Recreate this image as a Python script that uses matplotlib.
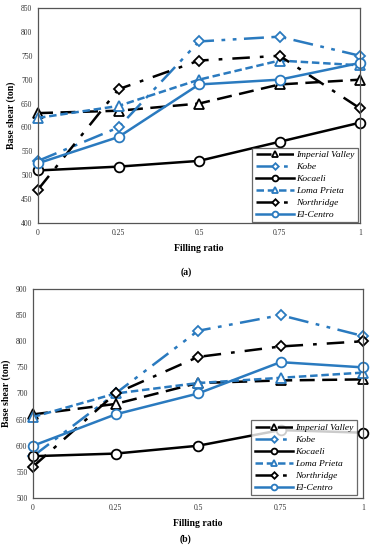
from matplotlib import pyplot as plt

plt.rcParams['font.family'] = 'Liberation Serif'

x = [0, 0.25, 0.5, 0.75, 1]
xticks = ['0', '0.25', '0.5', '0.75', '1']

# (a)
a_imperial = [630, 635, 650, 690, 700]
a_kobe = [530, 600, 780, 790, 750]
a_kocaeli = [510, 518, 530, 570, 610]
a_loma = [620, 645, 700, 740, 730]
a_northridge = [470, 680, 740, 750, 640]
a_elcentro = [525, 580, 690, 700, 735]

# (b)
b_imperial = [660, 680, 720, 725, 727]
b_kobe = [580, 700, 820, 850, 810]
b_kocaeli = [580, 585, 600, 630, 625]
b_loma = [655, 700, 720, 730, 740]
b_northridge = [560, 700, 770, 790, 800]
b_elcentro = [600, 660, 700, 760, 750]

names = ['Imperial Valley', 'Kobe', 'Kocaeli', 'Loma Prieta', 'Northridge', 'El-Centro']
blue = '#2a7abf'
colors = ['black', blue, 'black', blue, 'black', blue]
styles = [(0, (6, 3)), (0, (8, 3, 1.5, 3, 1.5, 3)), '-', (0, (3, 1.5)), (0, (7, 4, 1.5, 4)), '-']
markers = ['^', 'D', 'o', '^', 'D', 'o']
msizes = [6.5, 5.5, 7, 6.5, 5.5, 7]

fig = plt.figure(figsize=(3.72, 5.5), dpi=100)
ax1 = fig.add_axes([38/372, 1-223/550, 322/372, 215/550])
ax2 = fig.add_axes([33/372, 1-498/550, 330/372, 209/550])


def draw(ax, data, ylim, legbox):
    for i in range(6):
        ax.plot(x, data[i], label=names[i], color=colors[i], linestyle=styles[i],
                marker=markers[i], markersize=msizes[i], markerfacecolor='white',
                markeredgewidth=1.3, linewidth=1.8)
    ax.set_xlim(0, 1)
    ax.set_ylim(ylim[0], ylim[1])
    ax.set_yticks(range(ylim[0], ylim[1] + 1, 50))
    ax.set_xticks(x)
    ax.set_xticklabels(xticks)
    ax.tick_params(labelsize=5.5, length=0, pad=4, labelcolor='#333333')
    for s in ax.spines.values():
        s.set_color('#555555')
        s.set_linewidth(0.9)
    ax.set_xlabel('Filling ratio', fontsize=7, fontweight='bold', labelpad=5)
    ax.set_ylabel('Base shear (ton)', fontsize=7, fontweight='bold', labelpad=4)
    for l in ax.lines:
        l.set_clip_on(False)
    leg = ax.legend(loc='lower right', bbox_to_anchor=legbox,
                    prop={'style': 'italic', 'size': 6.8}, frameon=True, fancybox=False,
                    handlelength=4, handletextpad=0.3, labelspacing=0.35,
                    borderaxespad=0, borderpad=0.35, markerscale=0.6)
    leg.get_frame().set_edgecolor('#444444')
    leg.get_frame().set_linewidth(0.9)
    leg.set_zorder(5)


draw(ax1, [a_imperial, a_kobe, a_kocaeli, a_loma, a_northridge, a_elcentro], (400, 850),
     (0.994, 0.003))
draw(ax2, [b_imperial, b_kobe, b_kocaeli, b_loma, b_northridge, b_elcentro], (500, 900),
     (0.982, 0.013))

fig.text(0.5, 1-272/550, '(a)', ha='center', va='center', fontsize=7, fontweight='bold')
fig.text(0.5, 1-539/550, '(b)', ha='center', va='center', fontsize=7, fontweight='bold')

plt.savefig('out.png', dpi=100)
